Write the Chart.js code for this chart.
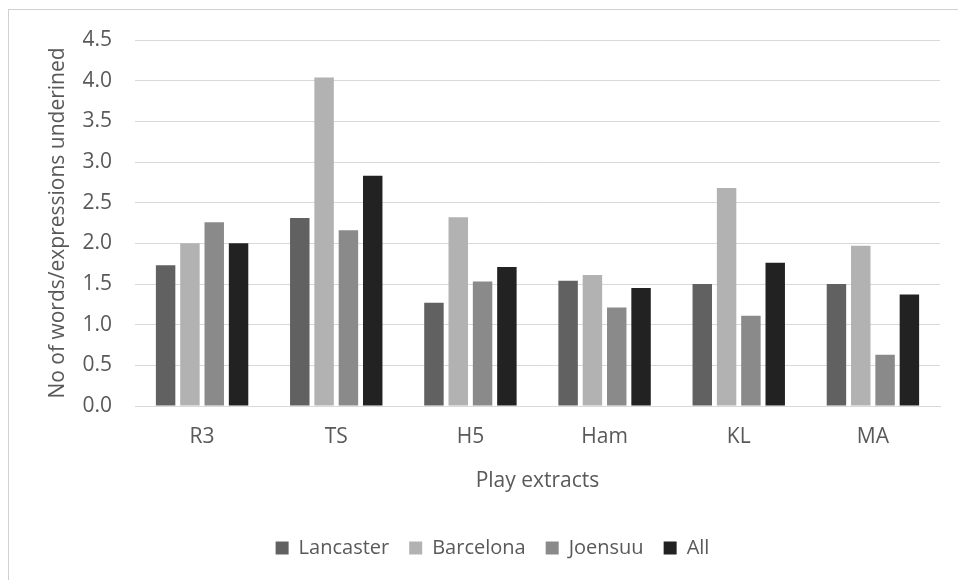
<!DOCTYPE html>
<html>
<head>
<meta charset="utf-8">
<script src="https://cdn.jsdelivr.net/npm/chart.js@4"></script>
<style>
  html, body { margin: 0; padding: 0; background: #ffffff; }
  #wrap { position: relative; width: 958px; height: 580px; overflow: hidden; }
  #frame { position: absolute; left: 8px; top: 9px; width: 1000px; height: 700px;
           border-left: 1px solid #d0d0d0; border-top: 1px solid #d0d0d0; }
  #c { position: absolute; left: 0; top: 0; }
</style>
</head>
<body>
<div id="wrap">
  <div id="frame"></div>
  <canvas id="c" width="958" height="580"></canvas>
</div>
<script>
// Play extracts on the category axis
const categories = ['R3', 'TS', 'H5', 'Ham', 'KL', 'MA'];

// Mean number of words/expressions underlined, per group
const lancaster = [1.73, 2.31, 1.27, 1.54, 1.50, 1.50];
const barcelona = [2.00, 4.04, 2.32, 1.61, 2.68, 1.97];
const joensuu   = [2.26, 2.16, 1.53, 1.21, 1.11, 0.63];
const allGroups = [2.00, 2.83, 1.71, 1.45, 1.76, 1.37];

const yTicks = [0, 0.5, 1, 1.5, 2, 2.5, 3, 3.5, 4, 4.5];

const textColor = '#595959';
const gridColor = '#d9d9d9';
const fontFamily = '"Open Sans", "Liberation Sans", sans-serif';

function series(label, data, color) {
  return {
    label: label,
    data: data,
    backgroundColor: color,
    borderWidth: 0,
    categoryPercentage: 0.725,
    barPercentage: 0.8
  };
}

new Chart(document.getElementById('c'), {
  type: 'bar',
  data: {
    labels: categories,
    datasets: [
      series('Lancaster', lancaster, '#616161'),
      series('Barcelona', barcelona, '#b2b2b2'),
      series('Joensuu', joensuu, '#8a8a8a'),
      series('All', allGroups, '#222222')
    ]
  },
  options: {
    responsive: false,
    animation: false,
    devicePixelRatio: 1,
    layout: { padding: { left: 45, right: 18, top: 40, bottom: 12 } },
    plugins: {
      tooltip: { enabled: false },
      legend: {
        position: 'bottom',
        labels: {
          color: textColor,
          font: { family: fontFamily, size: 20 },
          boxWidth: 13,
          boxHeight: 13,
          padding: 20
        }
      }
    },
    scales: {
      x: {
        grid: { display: false, drawTicks: false },
        border: { display: true, color: gridColor, width: 1 },
        ticks: { color: textColor, font: { family: fontFamily, size: 21 }, padding: 18 },
        title: {
          display: true,
          text: 'Play extracts',
          color: textColor,
          font: { family: fontFamily, size: 21 },
          padding: { top: 0, bottom: 24 }
        },
        afterFit: function (scale) { scale.height = 112; }
      },
      y: {
        min: 0,
        max: 4.5,
        afterBuildTicks: function (scale) {
          scale.ticks = yTicks.map(function (v) { return { value: v }; });
        },
        grid: { color: gridColor, lineWidth: 1, drawTicks: false },
        border: { display: false },
        ticks: {
          color: textColor,
          font: { family: fontFamily, size: 21 },
          padding: 23,
          callback: function (v) { return Number(v).toFixed(1); }
        },
        title: {
          display: true,
          text: 'No of words/expressions underined',
          color: textColor,
          font: { family: fontFamily, size: 21 },
          padding: { top: 0, bottom: 0 }
        },
        afterFit: function (scale) { scale.width = 90; }
      }
    }
  }
});
</script>
</body>
</html>
